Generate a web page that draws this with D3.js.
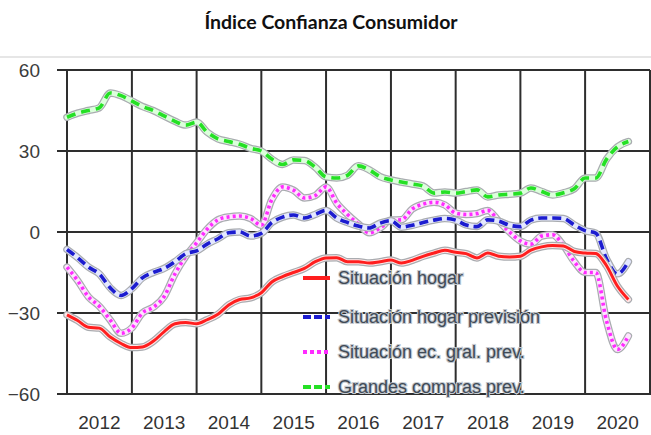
<!DOCTYPE html>
<html>
<head>
<meta charset="utf-8">
<script src="https://cdn.jsdelivr.net/npm/d3@7"></script>
<style>
  html, body { margin: 0; padding: 0; background: #fff; }
  svg { display: block; }
</style>
</head>
<body>
<svg id="chart" width="651" height="435"></svg>
<script>
// Bimonthly observations, January 2012 to September 2020
const months = [
  "2012-01","2012-03","2012-05","2012-07","2012-09","2012-11",
  "2013-01","2013-03","2013-05","2013-07","2013-09","2013-11",
  "2014-01","2014-03","2014-05","2014-07","2014-09","2014-11",
  "2015-01","2015-03","2015-05","2015-07","2015-09","2015-11",
  "2016-01","2016-03","2016-05","2016-07","2016-09","2016-11",
  "2017-01","2017-03","2017-05","2017-07","2017-09","2017-11",
  "2018-01","2018-03","2018-05","2018-07","2018-09","2018-11",
  "2019-01","2019-03","2019-05","2019-07","2019-09","2019-11",
  "2020-01","2020-03","2020-05","2020-07","2020-09"
];

const situacionHogar = [
  -30.7,-32.8,-35.3,-35.6,-38.9,-41.3,
  -42.8,-42.6,-40.5,-37,-34,-33.5,
  -34,-32.5,-30.5,-27,-25,-24.4,
  -22.5,-18.5,-16.5,-15,-13.5,-11,
  -9.6,-9.5,-11,-11,-11.5,-11,
  -10.4,-11.5,-10.5,-9,-7.8,-6.8,
  -7.5,-8,-9.6,-7.8,-9,-9.3,
  -9,-6.7,-5.5,-5,-5.2,-7.2,
  -7.8,-8,-12.5,-20,-25
];

const situacionHogarPrevision = [
  -6.5,-9.5,-13,-15.5,-20.7,-23.5,
  -21,-17,-15,-13.5,-11,-8,
  -7,-4.5,-2.5,-0.3,0,-1.5,
  -0.5,3.5,5.5,6.3,5.2,6.5,
  8,5.2,3.5,2.2,1.5,3.3,
  4.2,1.8,2.5,3.5,4.4,5,
  4.4,2.6,2,4.5,4,2.5,
  2,4.4,5.2,5.2,5,2.6,
  0.5,-0.4,-10,-15.5,-11
];

const situacionEcGralPrev = [
  -13,-18,-24,-27.5,-32.6,-37.5,
  -35.5,-30,-27.9,-24,-15.5,-9,
  -4,1,4.5,5.6,5.9,5,
  2.5,12,16.7,15.5,12.6,13.5,
  16.7,10.7,6.5,3,-0.3,1.5,
  4.4,4.5,8.5,10.3,11,10,
  7,6.5,6.8,8,4,0,
  -3.3,-4.5,-1.5,-1,-5,-11,
  -15,-15,-33,-43.5,-38.5
];

const grandesComprasPrev = [
  42.5,44,45,46,51.5,50.5,
  48.5,46.5,45,43,41,39.6,
  40.7,37,34.5,33.5,32.5,31,
  30,27,25,26.7,26.5,24,
  20.4,20,21,24.5,23,20.5,
  19.3,18.5,17.8,17,14.4,14.8,
  14.4,15,15.6,13,13.7,14,
  14.4,16.3,15,13.7,14.5,16,
  20,20,27,31.5,33.5
];

const yTicks = [-60, -30, 0, 30, 60];
const yearLabels = ["2012","2013","2014","2015","2016","2017","2018","2019","2020"];

const seriesNames = [
  "Situación hogar",
  "Situación hogar previsión",
  "Situación ec. gral. prev.",
  "Grandes compras prev."
];
const seriesColors = ["#ff1e1e", "#1c1ccf", "#ff2cff", "#25e025"];
const seriesTints  = ["#ffe6e6", "#e4e8ff", "#ffe4ff", "#dcffdc"];
const seriesDash   = [null, "9,5", "3,3.2", "9,6"];

const title = "Índice Confianza Consumidor";

const parse = d3.timeParse("%Y-%m");
const dates = months.map(parse);

const svg = d3.select("#chart");
const W = 651, H = 435;
const margin = { left: 67, right: 1, top: 70, bottom: 41 };

const x = d3.scaleTime()
  .domain([parse("2012-01"), parse("2021-01")])
  .range([margin.left, W - margin.right]);
const y = d3.scaleLinear()
  .domain([-60, 60])
  .range([H - margin.bottom, margin.top]);

// Title
svg.append("text")
  .attr("x", 331).attr("y", 29)
  .attr("text-anchor", "middle")
  .attr("font-family", "Lato, 'Open Sans', sans-serif")
  .attr("font-weight", "bold")
  .attr("font-size", 19.5)
  .attr("fill", "#111")
  .text(title);

// faint frame line above the plot
svg.append("line")
  .attr("x1", 0).attr("x2", W)
  .attr("y1", 57).attr("y2", 57)
  .attr("stroke", "#e6e6e6").attr("stroke-width", 2);

// Grid
const grid = svg.append("g").attr("stroke", "#2e2e2e").attr("stroke-width", 2);
const yearTicks = d3.range(2012, 2022).map(yr => new Date(yr, 0, 1));
grid.selectAll("line.v").data(yearTicks).join("line")
  .attr("class", "v")
  .attr("x1", d => x(d)).attr("x2", d => x(d))
  .attr("y1", y(60)).attr("y2", y(-60) + 1);
grid.selectAll("line.h").data(yTicks).join("line")
  .attr("class", "h")
  .attr("x1", margin.left - 10).attr("x2", W - margin.right)
  .attr("y1", d => y(d)).attr("y2", d => y(d));

// Y axis labels
const yAxis = d3.axisLeft(y).tickValues(yTicks).tickSize(0).tickPadding(27);
const gy = svg.append("g").attr("transform", `translate(${margin.left},0)`).call(yAxis);
gy.select(".domain").remove();
gy.selectAll("text")
  .attr("font-family", "Liberation Sans, Arial, sans-serif")
  .attr("font-size", 19)
  .attr("fill", "#3c3c3c");

// X axis labels centred within each year
const xLabelScale = d3.scaleBand().domain(yearLabels).range([margin.left, x(parse("2021-01"))]);
const xAxis = d3.axisBottom(xLabelScale).tickSize(0).tickPadding(22);
const gx = svg.append("g").attr("transform", `translate(0,${y(-60)})`).call(xAxis);
gx.select(".domain").remove();
gx.selectAll("text")
  .attr("font-family", "Liberation Sans, Arial, sans-serif")
  .attr("font-size", 19)
  .attr("fill", "#333");

// Series lines, each with a soft outline
const line = d3.line()
  .x((d, i) => x(dates[i]))
  .y(d => y(d))
  .curve(d3.curveMonotoneX);

const allSeries = [situacionHogar, situacionHogarPrevision, situacionEcGralPrev, grandesComprasPrev];
const drawOrder = [3, 2, 1, 0];
const lines = svg.append("g").attr("fill", "none").attr("stroke-linejoin", "round");
drawOrder.forEach(k => {
  const g = lines.append("g");
  g.append("path").attr("d", line(allSeries[k]))
    .attr("stroke", "#a9acb0").attr("stroke-width", 7.5).attr("stroke-linecap", "round");
  g.append("path").attr("d", line(allSeries[k]))
    .attr("stroke", seriesTints[k]).attr("stroke-width", 5).attr("stroke-linecap", "round");
  g.append("path").attr("d", line(allSeries[k]))
    .attr("stroke", seriesColors[k]).attr("stroke-width", k === 0 ? 3 : 3.6)
    .attr("stroke-dasharray", seriesDash[k]);
});

// Legend
const legendY = [278, 317, 352, 387];
const legend = svg.append("g");
seriesNames.forEach((name, k) => {
  const gy2 = legend.append("g").attr("transform", `translate(303,${legendY[k]})`);
  gy2.append("line")
    .attr("x1", 0).attr("x2", 27).attr("y1", 0).attr("y2", 0)
    .attr("stroke", seriesColors[k]).attr("stroke-width", 4)
    .attr("stroke-dasharray", k === 0 ? null : (k === 2 ? "4,3" : "8,3"));
  gy2.append("text")
    .attr("x", 35).attr("y", 6)
    .attr("font-family", "Liberation Sans, Arial, sans-serif")
    .attr("font-size", 18)
    .attr("fill", "#3f4a56")
    .attr("stroke", "#c3c9cf").attr("stroke-width", 2.2)
    .attr("paint-order", "stroke")
    .text(name);
});
</script>
</body>
</html>
